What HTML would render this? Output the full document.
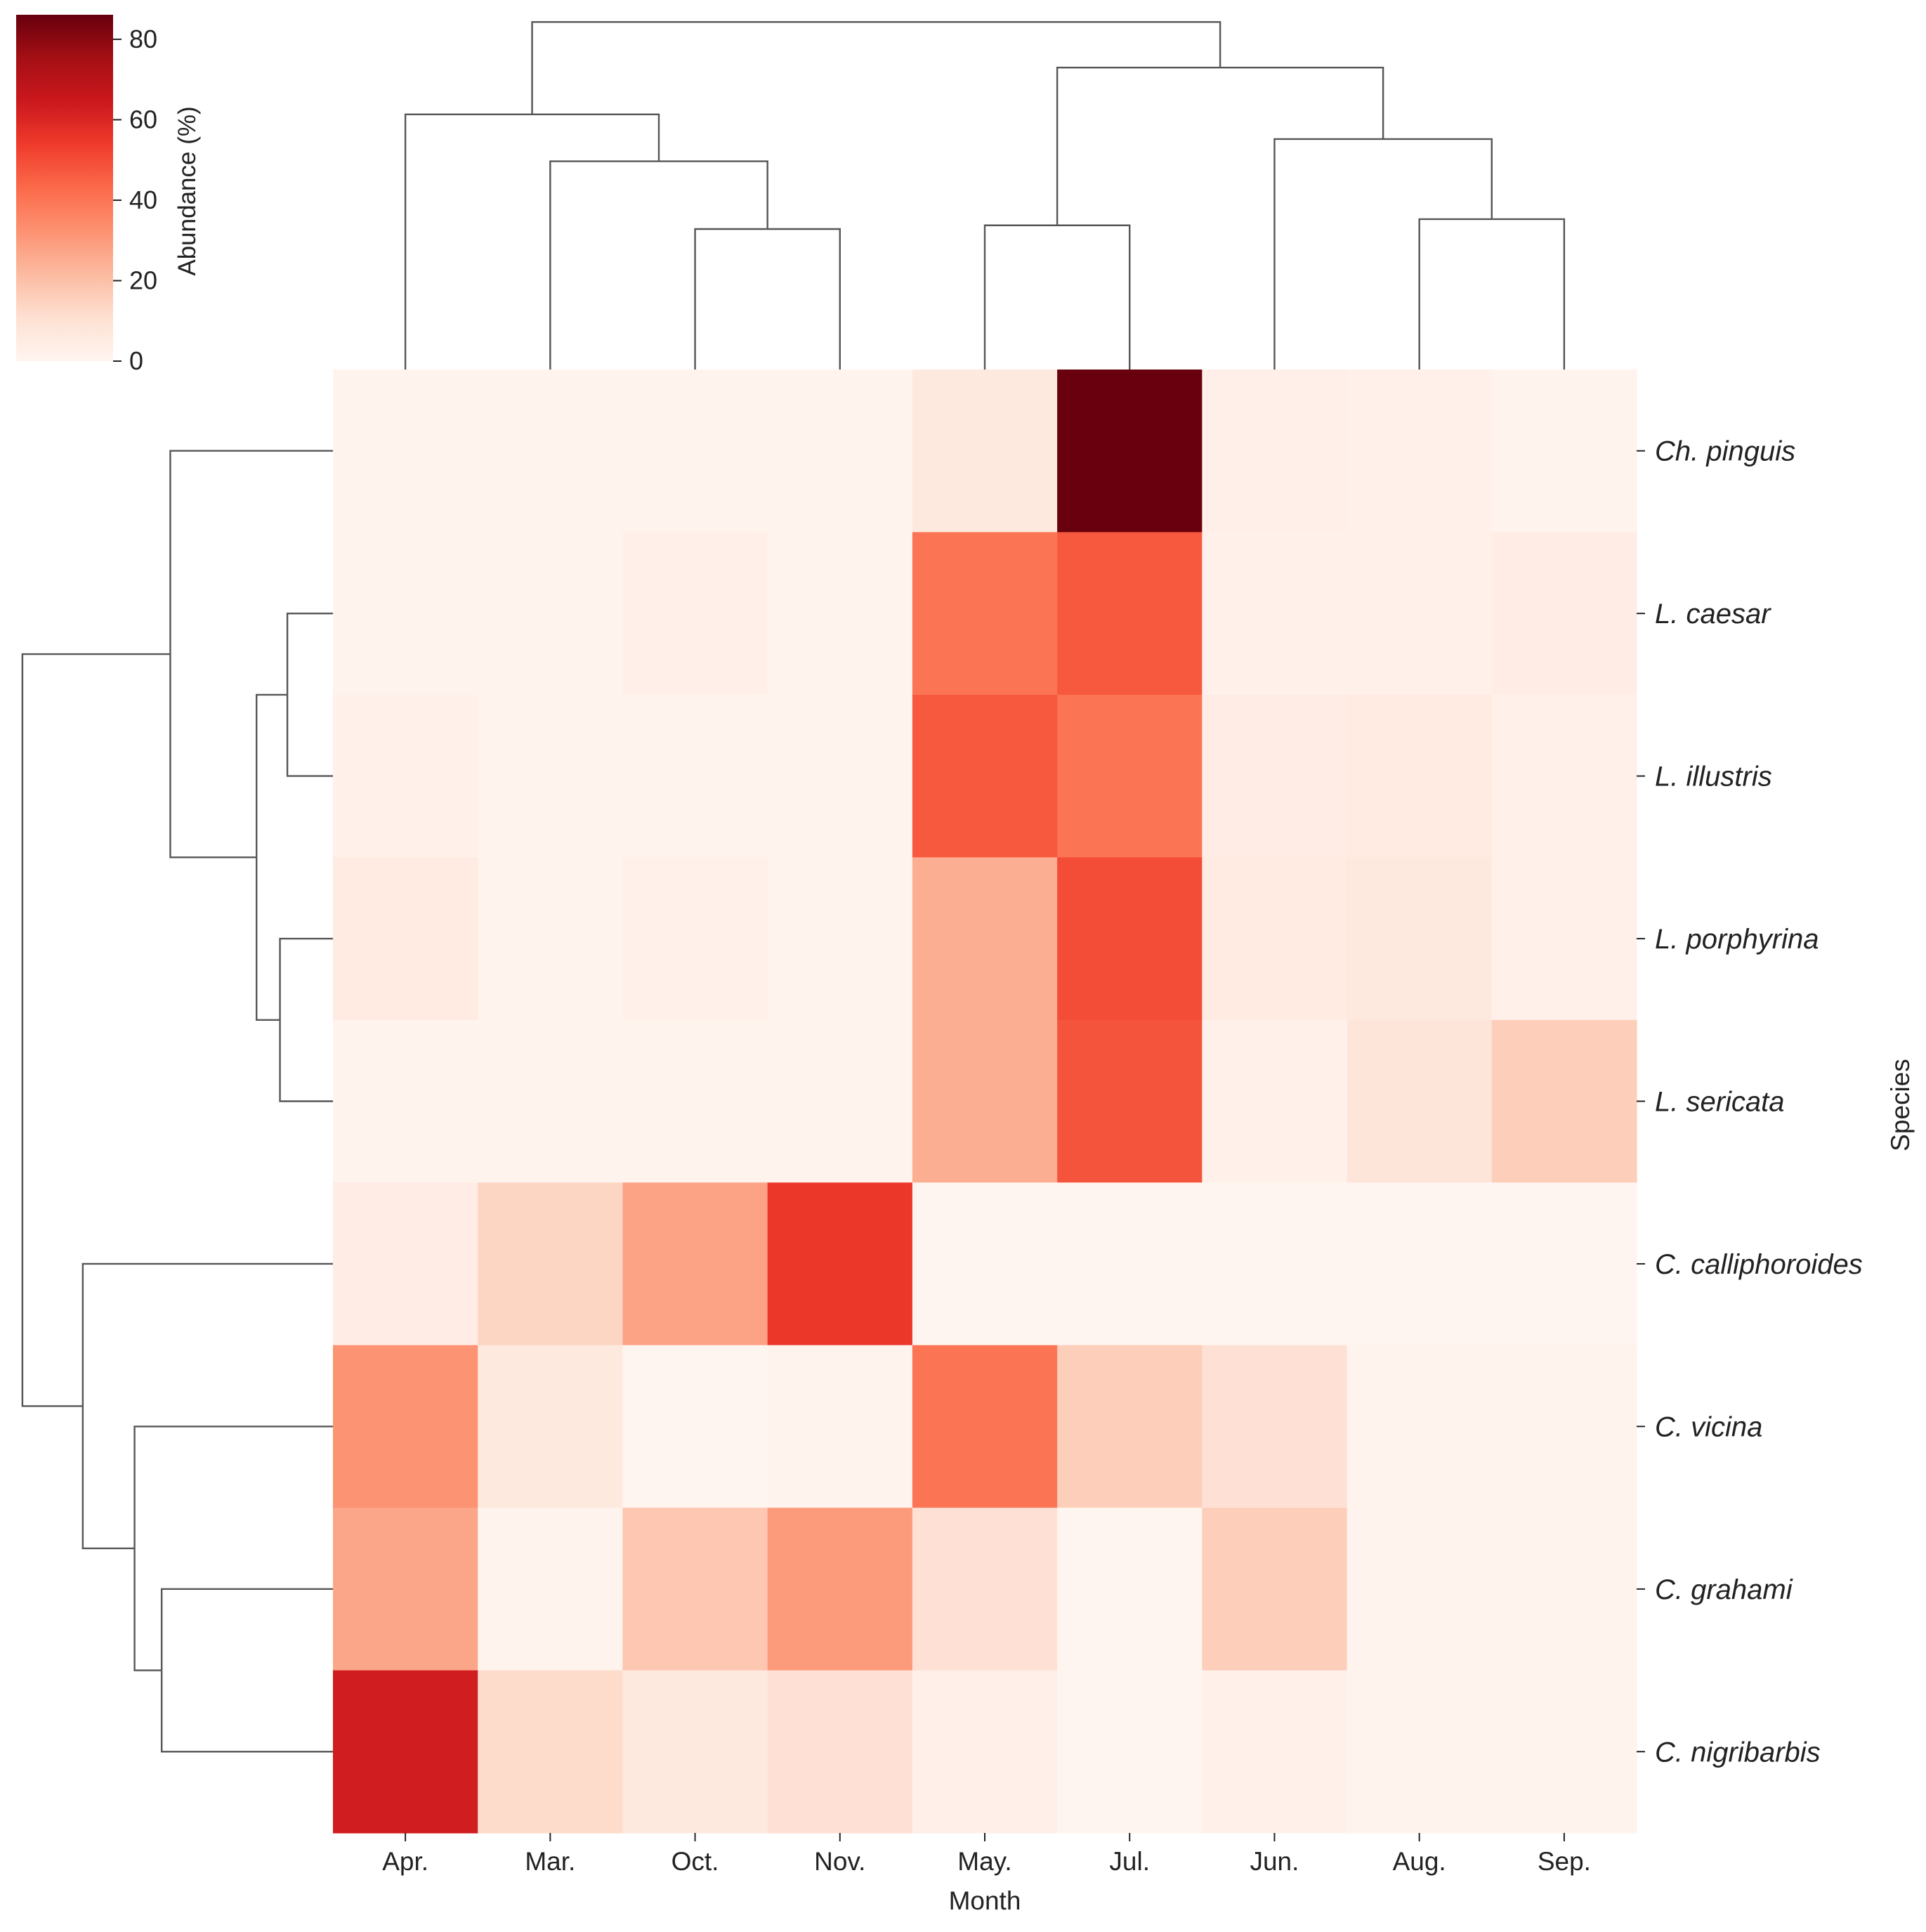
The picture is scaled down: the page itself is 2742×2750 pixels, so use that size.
<!DOCTYPE html>
<html><head><meta charset="utf-8"><style>
html,body{margin:0;padding:0;background:#fff}
svg{display:block}
text{font-family:"Liberation Sans","DejaVu Sans",sans-serif;fill:#222}
</style></head><body>
<svg id="chart" width="2742" height="2750" viewBox="0 0 2742 2750" xmlns="http://www.w3.org/2000/svg">
<defs>
<linearGradient id="cbgrad" x1="0" y1="1" x2="0" y2="0">
<stop offset="0" stop-color="#fff5f0"/><stop offset="0.125" stop-color="#fee0d2"/><stop offset="0.25" stop-color="#fcbba1"/><stop offset="0.375" stop-color="#fc9272"/><stop offset="0.5" stop-color="#fb6a4a"/><stop offset="0.625" stop-color="#ef3b2c"/><stop offset="0.75" stop-color="#cb181d"/><stop offset="0.875" stop-color="#a50f15"/><stop offset="1" stop-color="#67000d"/>
</linearGradient>
</defs>
<g id="heat"></g>
<g id="coldendro"></g>
<g id="rowdendro"></g>
<g id="xaxis"></g>
<g id="yaxis"></g>
<g id="cbar">
<rect x="23" y="21" width="138" height="493" fill="url(#cbgrad)"/>
</g>
<text x="1402" y="2718" font-size="37" text-anchor="middle">Month</text>
<text transform="translate(2718,1573) rotate(-90)" font-size="37" text-anchor="middle">Species</text>
<text transform="translate(278,272) rotate(-90)" font-size="35" text-anchor="middle">Abundance (%)</text>
</svg>
<script>
const months = ["Apr.","Mar.","Oct.","Nov.","May.","Jul.","Jun.","Aug.","Sep."];
const species = ["Ch. pinguis","L. caesar","L. illustris","L. porphyrina","L. sericata","C. calliphoroides","C. vicina","C. grahami","C. nigribarbis"];
const rowChPinguis = [1,1,1,1,6,86,3,2,1];
const rowLCaesar = [1,1,3,1,40,47,2,2,4];
const rowLIllustris = [2,1,1,1,47,40,4,5,2];
const rowLPorphyrina = [5,1,2,1,25,50,5,6,2];
const rowLSericata = [1,1,1,1,25,48,2,8,16];
const rowCCalliphoroides = [4,14,28,55,0,0,0,0,0];
const rowCVicina = [32,6,0,1,40,16,10,1,1];
const rowCGrahami = [27,1,18,30,10,0,16,1,1];
const rowCNigribarbis = [63,12,6,10,3,0,2,1,1];
const values = [rowChPinguis,rowLCaesar,rowLIllustris,rowLPorphyrina,rowLSericata,rowCCalliphoroides,rowCVicina,rowCGrahami,rowCNigribarbis];
const cbTicks = [0,20,40,60,80];
const vmax = 86.1;
const colMerges = [[2,3,114],[1,9,169],[0,10,207],[4,5,117],[7,8,122],[6,13,187],[12,14,245],[11,15,282]];
const rowMerges = [[1,2,37],[3,4,43],[9,10,62],[0,11,132],[7,8,139],[6,13,161],[5,14,203],[12,15,252]];

const NS="http://www.w3.org/2000/svg";
const X0=474,X1=2330,Y0=526,Y1=2609;
const cw=(X1-X0)/months.length, rh=(Y1-Y0)/species.length;
const xC=i=>X0+cw*(i+0.5), yC=j=>Y0+rh*(j+0.5);
const stops=["#fff5f0","#fee0d2","#fcbba1","#fc9272","#fb6a4a","#ef3b2c","#cb181d","#a50f15","#67000d"].map(h=>[1,3,5].map(k=>parseInt(h.substr(k,2),16)));
function color(v){let t=Math.max(0,Math.min(1,v/vmax))*8;let i=Math.min(7,Math.floor(t));let f=t-i;
 const c=stops[i].map((a,k)=>Math.round(a+(stops[i+1][k]-a)*f));return `rgb(${c[0]},${c[1]},${c[2]})`;}
function mk(tag,attrs,parent){const e=document.createElementNS(NS,tag);for(const k in attrs)e.setAttribute(k,attrs[k]);parent.appendChild(e);return e;}
const heat=document.getElementById('heat');
values.forEach((row,j)=>row.forEach((v,i)=>{
 const r=mk('rect',{x:X0+cw*i,y:Y0+rh*j,width:cw+0.6,height:rh+0.6,fill:color(v)},heat);
 
 
}));
const xa=document.getElementById('xaxis');
months.forEach((m,i)=>{
 const l=mk('line',{x1:xC(i),x2:xC(i),y1:Y1,y2:Y1+12,stroke:'#222','stroke-width':2},xa);
 
 
 const t=mk('text',{x:xC(i),y:Y1+53,'font-size':37,'text-anchor':'middle'},xa);t.textContent=m;
 
 
});
const ya=document.getElementById('yaxis');
species.forEach((s,j)=>{
 const l=mk('line',{x1:X1,x2:X1+12,y1:yC(j),y2:yC(j),stroke:'#222','stroke-width':2},ya);
 
 
 const t=mk('text',{x:X1+26,y:yC(j)+14,'font-size':40,'font-style':'italic'},ya);t.textContent=s;
 
 
});
const cb=document.getElementById('cbar');
const cbY=v=>514-(v/vmax)*493;
cbTicks.forEach(v=>{
 const l=mk('line',{x1:161,x2:173,y1:cbY(v),y2:cbY(v),stroke:'#222','stroke-width':2},cb);
 
 
 const t=mk('text',{x:184,y:cbY(v)+12,'font-size':36},cb);t.textContent=v;
 
 
});
function dendro(merges,n,posFn,g,isCol){
 const pos=[],h=[];for(let i=0;i<n;i++){pos.push(posFn(i));h.push(0);}
 const S=1.7543;
 merges.forEach(([a,b,hh])=>{
  const H=hh*S;let d;
  if(isCol){const b0=Y0;d=`M${pos[a]},${b0-h[a]*S}V${b0-H}H${pos[b]}V${b0-h[b]*S}`;}
  else{const b0=X0;d=`M${b0-h[a]*S},${pos[a]}H${b0-H}V${pos[b]}H${b0-h[b]*S}`;}
  const p=mk('path',{d:d,fill:'none',stroke:'#555','stroke-width':2.4},g);
  
  
  pos.push((pos[a]+pos[b])/2);h.push(hh);
 });
}
dendro(colMerges,months.length,xC,document.getElementById('coldendro'),true);
dendro(rowMerges,species.length,yC,document.getElementById('rowdendro'),false);
</script>
</body></html>
